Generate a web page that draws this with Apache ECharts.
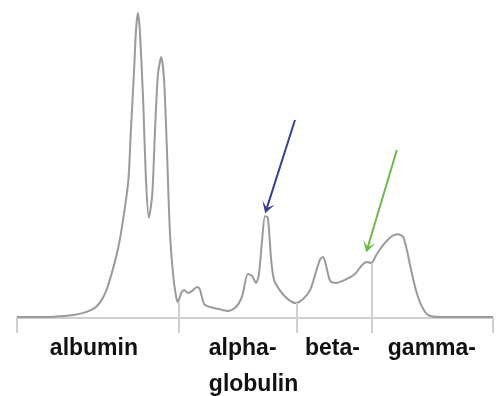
<!DOCTYPE html>
<html>
<head>
<meta charset="utf-8">
<script src="https://cdn.jsdelivr.net/npm/echarts@6/dist/echarts.min.js"></script>
<style>
  html, body { margin: 0; padding: 0; background: #fff; }
  #chart { width: 501px; height: 396px; }
</style>
</head>
<body>
<div id="chart"></div>
<script>
// densitometry trace, [mobility, relative intensity]
var trace = [
  [0, 0.3], [4.8, 0.3], [9.0, 0.6], [12.2, 1.1], [14.6, 2.0], [16.7, 3.8], [18.3, 7.4],
  [19.5, 12.5], [21.3, 23.3], [22.5, 34.4], [23.4, 45.2], [23.9, 60.7],
  [24.6, 81.3], [25.0, 94.4], [25.4, 100], [25.8, 94.4], [26.5, 71.5], [27.1, 45.2],
  [27.7, 32.8], [28.4, 40.3], [29.0, 61.6], [29.6, 79.7], [30.3, 85.6], [30.9, 78.0],
  [31.5, 55.1], [32.1, 28.9], [32.8, 14.1], [33.4, 7.2], [33.8, 5.2], [34.5, 8.2],
  [35.1, 9.2], [35.9, 8.2], [36.8, 8.9], [37.8, 10.2], [38.4, 9.5], [39.3, 4.6],
  [40.5, 3.6], [42.2, 3.0], [44.3, 2.3], [46.0, 3.6], [47.3, 7.2], [48.5, 14.4],
  [49.4, 13.8], [50.2, 11.5], [50.8, 14.1], [51.5, 25.6], [52.1, 33.4], [52.7, 32.8],
  [53.4, 19.0], [54.0, 12.5], [55.3, 8.9], [56.9, 6.2], [58.6, 4.9], [60.1, 6.2],
  [61.6, 9.2], [62.8, 15.1], [63.7, 19.3], [64.3, 20.0], [64.9, 17.4], [65.8, 12.1],
  [67.0, 11.5], [68.9, 12.5], [71.0, 14.4], [72.5, 17.4], [73.5, 18.4], [74.4, 18.0],
  [75.6, 21.0], [77.3, 24.6], [78.8, 26.9], [80.0, 27.5], [81.1, 26.6], [81.9, 22.3],
  [82.8, 15.7], [83.8, 9.2], [84.9, 4.3], [86.3, 1.0], [88.9, 0.3], [100, 0.3]
];

// fraction boundaries: [position, trace height there]
var dividers = [[34.0, 5.2], [58.8, 4.9], [74.6, 18.0]];
var tickValues = [0, 34.0, 58.8, 74.6, 100];

// fraction names, left edge of each label
var labelPos = [6.9, 40.3, 60.5, 77.9];
var labelText = ['albumin', 'alpha-\nglobulin', 'beta-', 'gamma-'];

// annotation arrows: from, to, colour
var arrows = [
  [[58.4, 64.9], [52.5, 36.1], '#3b3f8f'],
  [[79.8, 55.1], [73.7, 23.3], '#6fb84a']
];

var chart = echarts.init(document.getElementById('chart'));

var option = {
  animation: false,
  grid: { left: 17, right: 8, top: 13, bottom: 78, outerBoundsMode: 'none', containLabel: false },
  xAxis: {
    type: 'value',
    min: 0,
    max: 100,
    splitLine: { show: false },
    axisLine: { lineStyle: { color: '#cfcfcf', width: 2 } },
    axisTick: {
      show: true,
      customValues: tickValues,
      length: 15,
      lineStyle: { color: '#cfcfcf', width: 2 }
    },
    axisLabel: {
      customValues: labelPos,
      formatter: function (v) {
        return labelText[labelPos.indexOf(v)];
      },
      align: 'left',
      verticalAlign: 'top',
      margin: 13,
      fontFamily: 'Liberation Sans',
      fontWeight: 'bold',
      fontSize: 23,
      lineHeight: 36,
      color: '#111'
    }
  },
  yAxis: {
    type: 'value',
    min: 0,
    max: 100,
    show: false
  },
  series: [
    {
      type: 'line',
      data: trace,
      smooth: 0.25,
      symbol: 'none',
      lineStyle: { color: '#9a9a9a', width: 2 },
      markLine: {
        silent: true,
        symbol: 'none',
        label: { show: false },
        lineStyle: { color: '#cfcfcf', width: 2, type: 'solid' },
        data: dividers.map(function (d) {
          return [{ coord: [d[0], d[1]] }, { coord: [d[0], 0] }];
        })
      }
    },
    {
      type: 'line',
      data: [],
      markLine: {
        silent: true,
        symbol: ['none', 'path://M5,0 L10,10 L5,5 L0,10 Z'],
        symbolSize: [13, 11],
        label: { show: false },
        data: arrows.map(function (a) {
          return [
            { coord: a[0], lineStyle: { color: a[2], width: 2, type: 'solid' } },
            { coord: a[1] }
          ];
        })
      }
    }
  ]
};

chart.setOption(option);
</script>
</body>
</html>
